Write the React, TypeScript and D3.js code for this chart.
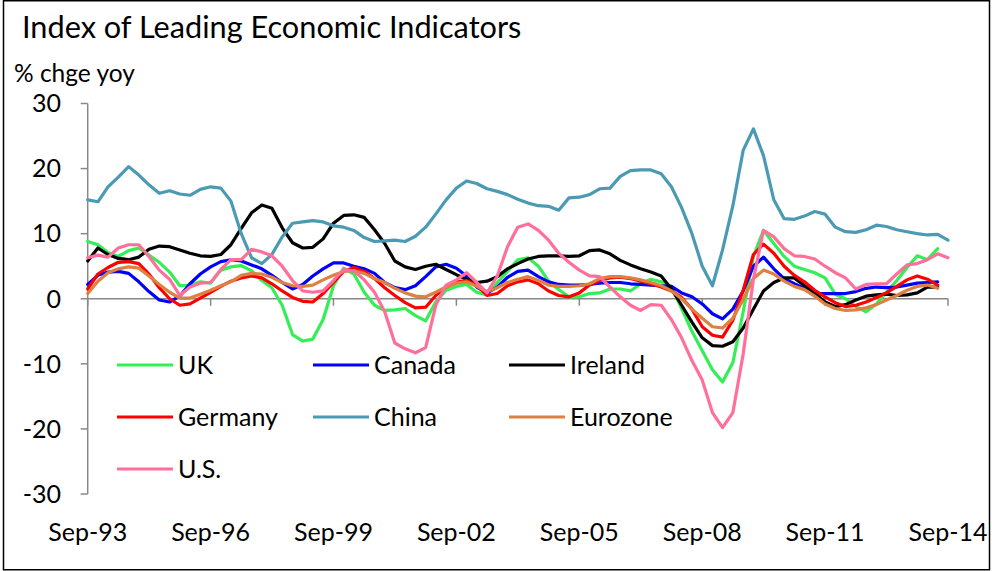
import React from "react";
import * as d3 from "d3";

// Quarterly observations, Sep-93 .. Sep-14 (85 points)
const startDate = new Date(1993, 8, 1);
const dates: Date[] = d3.range(85).map((i) => d3.timeMonth.offset(startDate, 3 * i));

const uk: (number | null)[] = [
  8.8, 8.3, 7.1, 6.5, 7.4, 7.8, 6.7, 5.6, 4.1, 2.0,
  2.1, 2.6, 2.4, 4.4, 4.9, 5.1, 4.3, 2.8, 1.7, -1.0,
  -5.5, -6.5, -6.2, -3.2, 2.0, 4.7, 3.8, 1.0, -1.0, -1.8,
  -1.7, -1.5, -2.6, -3.4, -0.5, 1.3, 1.9, 2.2, 1.0, 0.6,
  2.5, 4.2, 6.0, 6.3, 5.0, 2.7, 1.4, 0.3, 0.3, 0.8,
  0.9, 1.5, 1.5, 1.2, 2.3, 3.0, 2.6, 1.9, -1.5, -5.0,
  -8.0, -10.9, -12.8, -9.8, -2.0, 6.5, 10.5, 8.5, 6.5, 5.0,
  4.5, 4.0, 3.2, 0.7, 0.0, -1.2, -2.0, -0.8, 1.0, 2.8,
  4.8, 6.6, 6.0, 7.7, null,
];

const canada: (number | null)[] = [
  2.2, 3.6, 4.1, 4.2, 3.9, 2.6, 1.1, -0.2, -0.5, 0.4,
  2.3, 3.8, 4.9, 5.7, 6.0, 5.8, 5.2, 4.6, 3.6, 2.5,
  1.5, 2.2, 3.5, 4.6, 5.5, 5.5, 5.0, 4.6, 3.9, 2.5,
  1.7, 1.4, 2.0, 3.4, 4.9, 5.3, 4.7, 3.5, 1.8, 0.9,
  1.8, 3.3, 4.2, 4.4, 3.4, 2.6, 2.2, 2.1, 2.1, 2.2,
  2.4, 2.5, 2.5, 2.3, 2.2, 2.1, 2.0, 1.9, 0.9, 0.3,
  -0.8, -2.3, -3.1, -1.6, 1.2, 5.0, 6.4, 4.6, 3.1, 2.3,
  1.6, 0.8, 0.8, 0.8, 0.8, 1.1, 1.6, 1.8, 1.7, 1.8,
  2.1, 2.4, 2.5, 2.6, null,
];

const ireland: (number | null)[] = [
  5.8, 7.8, 6.8, 6.2, 6.0, 6.4, 7.6, 8.1, 8.0, 7.5,
  7.0, 6.6, 6.5, 6.8, 8.3, 10.8, 13.2, 14.4, 13.9, 10.9,
  8.6, 7.8, 7.9, 9.2, 11.6, 12.8, 12.9, 12.5, 10.6, 8.5,
  5.8, 4.9, 4.5, 5.0, 5.3, 4.5, 3.7, 3.0, 2.5, 2.7,
  3.4, 4.6, 5.4, 6.1, 6.5, 6.6, 6.6, 6.5, 6.6, 7.4,
  7.5, 6.9, 5.9, 5.2, 4.6, 4.1, 3.5, 1.5, -1.0, -3.6,
  -6.0, -7.2, -7.3, -6.6, -4.5, -1.6, 1.2, 2.5, 3.2, 3.2,
  2.0, 0.9, -0.5, -1.2, -0.9, -0.2, 0.4, 0.6, 0.7, 0.5,
  0.6, 0.9, 1.8, 1.8, null,
];

const germany: (number | null)[] = [
  1.5, 3.8, 4.8, 5.6, 5.7, 5.4, 3.8, 1.7, 0.0, -1.0,
  -0.8, 0.1, 1.0, 1.9, 2.7, 3.2, 3.5, 3.2, 2.3, 1.2,
  0.2, -0.4, -0.5, 0.8, 2.5, 4.2, 4.8, 4.2, 3.1, 1.7,
  0.5, -0.6, -1.4, -1.3, 0.5, 1.8, 2.6, 2.8, 2.1, 0.5,
  0.8, 2.0, 2.6, 2.9, 2.3, 1.2, 0.5, 0.3, 0.9, 2.1,
  2.8, 3.2, 3.3, 3.1, 2.7, 2.3, 1.8, 1.2, 0.2, -1.6,
  -4.3, -5.6, -5.9, -3.3, 1.3, 6.8, 8.4, 7.0, 5.0, 3.6,
  2.6, 1.3, 0.3, -0.6, -1.2, -1.0, -0.5, 0.2, 0.9, 1.9,
  2.9, 3.5, 3.0, 2.1, null,
];

const china: (number | null)[] = [
  15.2, 14.9, 17.2, 18.7, 20.3, 19.0, 17.5, 16.2, 16.6, 16.1,
  15.9, 16.8, 17.2, 17.0, 15.0, 10.0, 6.3, 5.4, 6.8, 9.5,
  11.6, 11.8, 12.0, 11.8, 11.2, 11.0, 10.5, 9.4, 8.8, 8.9,
  9.0, 8.8, 9.6, 11.0, 13.0, 15.2, 17.0, 18.1, 17.7, 16.9,
  16.5, 16.0, 15.3, 14.7, 14.3, 14.2, 13.6, 15.5, 15.6, 16.0,
  16.9, 17.0, 18.8, 19.7, 19.8, 19.8, 19.2, 17.2, 14.0, 10.0,
  5.0, 2.0, 7.5, 14.3, 22.8, 26.1, 22.0, 15.2, 12.3, 12.2,
  12.7, 13.4, 13.0, 11.0, 10.3, 10.2, 10.6, 11.3, 11.1, 10.6,
  10.3, 10.0, 9.8, 9.9, 9.0,
];

const eurozone: (number | null)[] = [
  0.8, 2.7, 4.0, 4.6, 4.9, 4.7, 3.5, 2.2, 1.0, 0.1,
  0.1, 0.7, 1.3, 2.0, 2.6, 3.6, 3.9, 3.8, 3.3, 2.5,
  2.0, 1.9, 2.1, 2.9, 3.6, 4.2, 4.3, 3.9, 3.1, 2.5,
  1.6, 0.9, 0.4, 0.3, 1.0, 1.8, 2.4, 2.6, 1.9, 1.1,
  1.7, 2.5, 3.0, 3.4, 2.8, 2.1, 1.9, 1.9, 2.0, 2.3,
  3.1, 3.4, 3.4, 3.2, 2.9, 2.5, 2.0, 1.2, 0.0, -1.6,
  -3.0, -4.3, -4.5, -3.0, -0.1, 3.1, 4.4, 3.8, 2.7, 1.9,
  1.4, 0.4, -0.8, -1.5, -1.8, -1.7, -1.4, -0.9, -0.2, 0.5,
  1.3, 1.9, 2.1, 1.6, null,
];

const us: (number | null)[] = [
  6.3, 6.7, 6.4, 7.8, 8.3, 8.3, 6.5, 4.4, 3.0, 0.5,
  1.8, 2.4, 2.5, 4.5, 6.0, 6.0, 7.6, 7.2, 6.6, 5.0,
  2.8, 1.2, 1.0, 1.2, 2.8, 4.5, 4.3, 2.9, 1.0, -2.0,
  -6.8, -7.7, -8.3, -7.5, -1.0, 2.1, 2.9, 4.0, 2.5, 0.9,
  3.5, 8.0, 11.0, 11.5, 10.5, 9.0, 7.0, 5.6, 4.4, 3.5,
  3.4, 1.8, 0.3, -1.0, -1.8, -0.9, -1.0, -3.2, -6.0, -9.5,
  -12.5, -17.5, -19.8, -17.5, -8.5, 3.0, 10.5, 9.5, 7.7, 6.6,
  6.5, 6.1, 5.0, 4.0, 3.2, 1.5, 2.2, 2.3, 2.3, 3.8,
  5.2, 5.4, 6.0, 6.9, 6.3,
];

const seriesNames = ["UK", "Canada", "Ireland", "Germany", "China", "Eurozone", "U.S."];
const seriesColors = ["#33EE55", "#0000FF", "#000000", "#FF0000", "#4A9AB4", "#DD8040", "#FF6F9A"];
const seriesValues = [uk, canada, ireland, germany, china, eurozone, us];

const yTicks = [30, 20, 10, 0, -10, -20, -30];
const xTickDates = d3.range(0, 8).map((k) => new Date(1993 + 3 * k, 8, 1));

const W = 992;
const H = 571;
const FONT = "Lato, 'Open Sans', sans-serif";

export default function App() {
  const x = d3
    .scaleTime()
    .domain([startDate, new Date(2014, 8, 1)])
    .range([87.7, 948]);
  const y = d3.scaleLinear().domain([-30, 30]).range([494, 103.5]);
  const fmt = d3.timeFormat("%b-%y");

  const line = d3
    .line<number | null>()
    .defined((v) => v !== null)
    .x((_, i) => x(dates[i]))
    .y((v) => y(v as number));

  const legendCols = [117, 313, 509];
  const legendRows = [365, 417, 469];

  return (
    <svg
      width={W}
      height={H}
      style={{ position: "absolute", left: 0, top: 0, background: "#fff" }}
      fontFamily={FONT}
    >
      <rect x={0} y={0} width={W} height={H} fill="#fff" />
      <rect x={3.5} y={0.75} width={986} height={569} fill="none" stroke="#000" strokeWidth={1.5} />
      <text x={22} y={38} fontSize={30.7} fill="#000">
        Index of Leading Economic Indicators
      </text>
      <text x={14} y={82} fontSize={24.5} fill="#000">
        % chge yoy
      </text>

      {/* y axis */}
      <line x1={x(startDate)} x2={x(startDate)} y1={y(30)} y2={y(-30)} stroke="#888" strokeWidth={1.5} />
      {yTicks.map((t) => (
        <g key={t}>
          <line x1={x(startDate) - 7} x2={x(startDate)} y1={y(t)} y2={y(t)} stroke="#888" strokeWidth={1.5} />
          <text x={61} y={y(t)} dy="0.35em" textAnchor="end" fontSize={25} fill="#000">
            {t}
          </text>
        </g>
      ))}

      {/* x axis at zero */}
      <line x1={x(startDate)} x2={x(new Date(2014, 8, 1))} y1={y(0)} y2={y(0)} stroke="#888" strokeWidth={1.5} />
      {xTickDates.map((d) => (
        <g key={d.getTime()}>
          <line x1={x(d)} x2={x(d)} y1={y(0)} y2={y(0) + 7} stroke="#888" strokeWidth={1.5} />
          <text x={x(d)} y={532} dy="0.35em" textAnchor="middle" fontSize={25} fill="#000">
            {fmt(d)}
          </text>
        </g>
      ))}

      {/* series */}
      {seriesValues.map((vals, i) => (
        <path
          key={seriesNames[i]}
          d={line(vals) || ""}
          fill="none"
          stroke={seriesColors[i]}
          strokeWidth={3.2}
          strokeLinejoin="round"
          strokeLinecap="round"
        />
      ))}

      {/* legend */}
      {seriesNames.map((name, i) => {
        const lx = legendCols[i % 3];
        const ly = legendRows[Math.floor(i / 3)];
        return (
          <g key={name}>
            <line x1={lx} x2={lx + 56} y1={ly} y2={ly} stroke={seriesColors[i]} strokeWidth={3.2} />
            <text x={lx + 61} y={ly} dy="0.35em" fontSize={25} fill="#000">
              {name}
            </text>
          </g>
        );
      })}
    </svg>
  );
}
